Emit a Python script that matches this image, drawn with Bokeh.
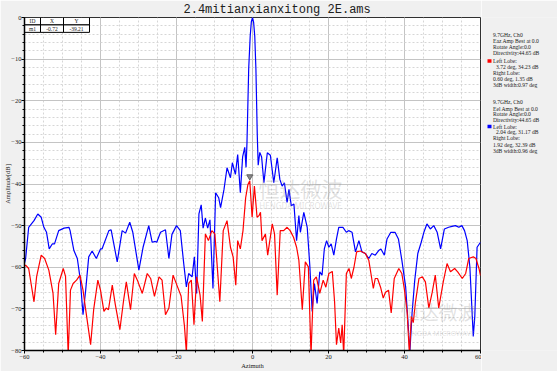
from bokeh.plotting import figure
from bokeh.layouts import row
from bokeh.models import Label, SingleIntervalTicker, Range1d, Title
from bokeh.core.properties import value
from bokeh.embed import file_html
from bokeh.resources import INLINE

# ---------------- data ----------------
title_text = "2.4mitianxianxitong 2E.ams"
x_label = "Azimuth"
y_label = "Amplitude[dB]"

az_blue = [-60.0, -59.7, -58.9, -57.5, -56.5, -55.6, -54.9, -54.2, -53.5, -52.7, -52.1, -51.0, -49.6, -48.3,
           -48.0, -47.0, -46.1, -45.3, -44.6, -43.9, -43.1, -42.2, -41.1, -40.0, -39.6, -37.8, -37.2, -35.6,
           -34.3, -33.4, -32.3, -31.5, -29.9, -28.8, -27.3, -26.4, -25.6, -25.2, -24.2, -22.9, -22.0, -21.2,
           -20.0, -19.0, -18.1, -17.4, -16.8, -15.9, -15.3, -14.7, -14.1, -13.5, -13.0, -12.4, -11.8, -11.2,
           -10.4, -9.7, -8.9, -8.4, -7.5, -6.7, -5.8, -5.3, -4.5, -3.9, -3.2, -2.6, -2.04, -1.7, -1.45, -1.0,
           -0.6, -0.3, 0.0, 0.3, 0.6, 0.9, 1.25, 1.5, 1.92, 2.4, 3.0, 3.9, 4.7, 5.6, 6.5, 7.2, 7.8, 8.4, 9.1,
           9.6, 10.2, 10.9, 11.6, 12.2, 12.6, 13.5, 14.4, 15.1, 15.7, 16.3, 17.0, 17.7, 18.3, 18.9, 19.5, 20.1,
           20.7, 21.4, 22.1, 22.7, 23.8, 24.7, 25.3, 26.2, 27.1, 28.0, 28.8, 29.7, 30.6, 31.4, 32.3, 33.2,
           33.8, 34.7, 35.4, 36.4, 37.5, 38.4, 39.3, 40.3, 40.9, 41.4, 42.0, 42.7, 43.5, 44.4, 45.1, 45.9,
           46.8, 47.7, 48.6, 49.5, 50.5, 51.6, 52.5, 53.4, 54.3, 55.1, 55.8, 56.5, 57.2, 58.1, 58.5, 59.1, 60.0]
amp_blue = [-59.0, -57.9, -50.4, -48.8, -47.2, -48.0, -50.4, -51.6, -55.6, -54.4, -54.4, -51.2, -50.6, -50.4,
            -51.2, -56.0, -57.9, -63.1, -71.4, -65.5, -57.5, -56.1, -57.9, -55.6, -55.6, -51.2, -51.0, -58.7,
            -51.2, -51.8, -49.2, -51.6, -60.7, -55.2, -50.0, -54.0, -53.8, -54.0, -51.6, -51.0, -57.9, -52.1,
            -50.0, -51.2, -59.1, -64.7, -61.5, -62.3, -57.5, -66.3, -47.2, -45.0, -50.6, -48.2, -50.6, -48.6,
            -65.1, -42.1, -43.3, -45.7, -41.3, -36.1, -38.5, -34.9, -37.7, -32.9, -42.1, -33.5, -31.2, -36.0,
            -30.0, -12.3, -4.4, -1.0, 0.0, -1.2, -4.6, -12.5, -28.0, -35.5, -32.4, -33.5, -39.7, -32.5, -33.1,
            -39.7, -33.7, -38.9, -40.5, -39.7, -44.4, -41.3, -45.2, -44.8, -53.6, -47.6, -51.6, -46.8, -50.4,
            -59.9, -70.6, -63.9, -68.7, -61.1, -61.9, -55.6, -53.6, -55.2, -54.4, -57.1, -53.2, -50.4, -50.4,
            -51.6, -51.2, -51.6, -56.3, -53.6, -56.3, -56.7, -57.9, -56.7, -57.1, -56.0, -55.6, -57.1, -53.2,
            -51.6, -51.6, -53.2, -58.3, -64.7, -72.9, -80.5, -70.9, -63.1, -56.7, -54.0, -51.6, -49.6, -50.8,
            -50.0, -51.6, -55.6, -50.8, -50.4, -50.2, -50.0, -50.4, -50.0, -51.2, -53.6, -59.9, -76.6, -71.8,
            -55.2, -54.0]

az_red = [-60.0, -59.7, -58.9, -57.5, -56.8, -55.6, -54.7, -53.6, -52.5, -51.8, -51.0, -49.8, -49.2, -48.5,
          -47.9, -47.2, -46.3, -45.4, -44.6, -43.9, -42.6, -41.8, -40.7, -40.0, -39.1, -38.5, -37.9, -36.9,
          -36.1, -34.9, -33.9, -33.2, -32.1, -31.1, -30.3, -29.0, -27.7, -26.8, -25.8, -24.6, -23.8, -22.9,
          -22.0, -20.9, -19.9, -18.8, -17.9, -17.4, -16.8, -16.1, -15.4, -14.7, -13.8, -13.2, -12.4, -11.6,
          -10.7, -9.9, -8.6, -7.7, -6.7, -5.8, -5.1, -4.4, -3.9, -3.2, -2.5, -1.8, -1.2, -0.72, -0.1, 0.5,
          1.2, 1.7, 2.1, 2.5, 3.4, 4.0, 5.2, 5.8, 6.5, 7.3, 8.2, 9.1, 9.9, 10.8, 11.6, 12.2, 13.1, 13.9, 14.7,
          15.4, 16.1, 16.8, 17.7, 18.6, 19.3, 20.1, 21.0, 21.6, 22.1, 22.7, 23.2, 23.6, 24.0, 24.7, 25.4,
          26.0, 26.7, 27.4, 28.4, 29.7, 30.6, 31.8, 32.3, 32.9, 33.7, 34.4, 35.0, 35.8, 36.5, 37.3, 38.5,
          39.3, 40.0, 40.7, 41.3, 41.8, 42.3, 42.9, 43.8, 44.7, 45.5, 46.4, 47.3, 48.1, 49.0, 50.2, 51.2,
          52.1, 53.2, 54.0, 55.2, 56.1, 56.9, 58.1, 58.8, 59.6, 60.0]
amp_red = [-59.8, -59.5, -60.3, -68.3, -62.2, -57.1, -57.9, -60.7, -66.2, -76.2, -63.9, -60.3, -62.2, -81.0,
           -65.5, -63.9, -63.1, -61.9, -65.5, -70.2, -78.6, -70.2, -63.1, -65.5, -70.6, -69.8, -70.2, -64.3,
           -69.0, -75.0, -67.8, -63.5, -70.2, -61.5, -63.1, -66.3, -61.5, -62.7, -67.0, -62.3, -63.1, -71.4,
           -69.8, -61.9, -64.3, -66.9, -74.2, -80.5, -63.9, -63.1, -73.8, -62.3, -66.7, -73.0, -52.0, -53.6,
           -51.2, -52.0, -68.3, -51.2, -48.8, -55.2, -57.5, -64.3, -53.6, -55.6, -51.2, -43.3, -40.1, -39.2,
           -48.0, -40.5, -48.0, -47.6, -46.8, -53.6, -52.0, -57.1, -49.6, -52.0, -66.7, -51.2, -51.2, -50.4,
           -51.2, -52.8, -55.2, -58.3, -70.2, -58.7, -59.9, -81.0, -63.1, -62.3, -66.3, -63.1, -64.8, -61.5,
           -61.0, -68.3, -78.6, -74.6, -78.2, -73.8, -81.0, -61.5, -60.3, -62.7, -60.0, -56.3, -56.1, -56.7,
           -58.3, -65.1, -62.7, -62.7, -64.8, -67.4, -66.0, -65.5, -71.0, -62.7, -60.3, -61.5, -65.5, -70.9,
           -81.0, -71.8, -73.3, -68.3, -62.7, -62.3, -63.5, -69.8, -66.0, -61.9, -69.8, -63.5, -59.1, -61.1,
           -60.3, -61.1, -62.7, -61.5, -57.9, -57.5, -57.9, -60.3, -62.0]

marker_id = ["m1"]
marker_x = [-0.72]
marker_y = [-39.21]

info_red = ["9.7GHz, Ch0", "Eaz Amp Best at 0.0", "Rotate Angle:0.0", "Directivity:44.65 dB",
            "Left Lobe:", "3.72 deg,  34.23 dB", "Right Lobe:", "0.60 deg,  1.35 dB", "3dB width:0.97 deg"]
info_blue = ["9.7GHz, Ch0", "Eel Amp Best at 0.0", "Rotate Angle:0.0", "Directivity:44.65 dB",
             "Left Lobe:", "2.04 deg,  31.17 dB", "Right Lobe:", "1.92 deg,  32.39 dB", "3dB width:0.96 deg"]

# ---------------- layout helpers (reference pixels) ----------------
TOTAL_W, H = 557, 371
FL, FR, FT, FB = 24, 480, 15, 351   # plot frame in reference pixels
PW = FR + 1                          # width of the chart figure
SW = TOTAL_W - PW                    # width of the side panel


def rx(px):  # reference pixel x -> data x
    return -60 + (px - FL) / (FR - FL) * 120.0


def ry(py):  # reference pixel y -> data y
    return -(py - FT) / (FB - FT) * 80.0


FONT = "Liberation Serif"
BG = "#f0f0f0"

p = figure(width=PW, height=H, output_backend="svg", toolbar_location=None, title=None,
           x_range=Range1d(-60, 60), y_range=Range1d(-80, 0),
           min_border_left=FL, min_border_right=PW - FR, min_border_top=FT, min_border_bottom=H - FB)
p.background_fill_color = "white"
p.border_fill_color = BG
p.outline_line_color = "#303030"
p.outline_line_width = 1

p.add_layout(Title(text=title_text, align="left", offset=183 - FL, standoff=1,
                   text_font="Liberation Mono", text_font_size="12px", text_font_style="normal",
                   text_color="#202020"), "above")

xt = SingleIntervalTicker(interval=20, num_minor_ticks=4)
yt = SingleIntervalTicker(interval=10, num_minor_ticks=5)
p.xaxis.ticker = xt
p.yaxis.ticker = yt
p.xgrid.ticker = xt
p.ygrid.ticker = yt
for g in (p.xgrid, p.ygrid):
    g.grid_line_color = "#c4c4c4"
    g.grid_line_width = 1
    g.minor_grid_line_color = "#d6d6d6"
    g.minor_grid_line_dash = "2 2"
    g.minor_grid_line_width = 1

for ax in (p.xaxis, p.yaxis):
    ax.axis_line_color = "black"
    ax.axis_line_width = 1.5
    ax.major_tick_line_color = "black"
    ax.minor_tick_line_color = "black"
    ax.major_tick_out = 3
    ax.major_tick_in = 0
    ax.minor_tick_out = 2
    ax.minor_tick_in = 0
    ax.major_label_text_font = FONT
    ax.major_label_text_font_size = "6.5px"
    ax.major_label_text_color = "#202020"
    ax.major_label_standoff = 1
    ax.axis_label_text_font = FONT
    ax.axis_label_text_font_size = "6.5px"
    ax.axis_label_text_font_style = "normal"
    ax.axis_label_text_color = "#202020"
    ax.axis_label_standoff = 0
p.yaxis.major_label_standoff = 0
p.yaxis.axis_label_standoff = -3
p.xaxis.axis_label = x_label
p.yaxis.axis_label = y_label

# ---------------- curves ----------------
p.line(az_blue, amp_blue, line_color="#0000ff", line_width=1.2)
p.line(az_red, amp_red, line_color="#ff0000", line_width=1.2)
p.scatter(marker_x, [v + 1.0 for v in marker_y], marker="inverted_triangle", size=6,
          fill_color="#8a8a8a", line_color="#606060")

# ---------------- marker table ----------------
col_edges = [24, 40, 63, 89]
row_edges = [15, 22.5, 30]
table = [["ID", "X", "Y"], [marker_id[0], f"{marker_x[0]:.2f}", f"{marker_y[0]:.2f}"]]
left, right, top, bottom, tx, ty, tt = [], [], [], [], [], [], []
for r in range(2):
    for c in range(3):
        left.append(rx(col_edges[c]))
        right.append(rx(col_edges[c + 1]))
        top.append(ry(row_edges[r]))
        bottom.append(ry(row_edges[r + 1]))
        tx.append(rx((col_edges[c] + col_edges[c + 1]) / 2))
        ty.append(ry((row_edges[r] + row_edges[r + 1]) / 2))
        tt.append(table[r][c])
p.quad(left=left, right=right, top=top, bottom=bottom, fill_color="white", line_color="black", line_width=1)
p.text(tx, ty, text=tt, text_font=value(FONT), text_font_size="5.5px", text_align="center",
       text_baseline="middle", text_color="#202020")

# ---------------- side panel (coordinates are reference pixels) ----------------
s = figure(width=SW, height=H, output_backend="svg", toolbar_location=None, title=None,
           x_range=Range1d(PW, TOTAL_W), y_range=Range1d(H, 0),
           x_axis_location=None, y_axis_location=None,
           min_border_left=0, min_border_right=0, min_border_top=0, min_border_bottom=0)
s.background_fill_color = BG
s.border_fill_color = BG
s.outline_line_color = None
s.grid.visible = False

red_y = [19.3, 26.7, 33.3, 40.0, 48.5, 55.0, 61.5, 68.0, 75.0]
blue_y = [94.3, 101.5, 107.8, 114.5, 121.5, 128.0, 134.5, 141.5, 149.0]
ix, iy, it = [], [], []
for lines, ys in ((info_red, red_y), (info_blue, blue_y)):
    for i, (txt, yy) in enumerate(zip(lines, ys)):
        ix.append(495.5 if i == 5 else 492.5)
        iy.append(yy)
        it.append(txt)
s.text(ix, iy, text=it, text_font=value(FONT), text_font_size="5.6px", text_baseline="middle",
       text_align="left", text_color="#202020")
s.rect([489, 489], [red_y[4], blue_y[4]], width=4, height=4, fill_color=["#ff0000", "#0000ff"],
       line_color=None)

# ---------------- watermarks ----------------
wm = [(300, 187, 205, "21px", "8px"), (438, 312, 334, "19px", "7px")]
for (cx, cy, cy2, fs, fs2) in wm:
    p.add_layout(Label(x=rx(cx), y=ry(cy), text="恒达微波", text_font="Noto Sans CJK SC", text_font_size=fs,
                       text_align="center", text_baseline="middle", text_color="#9a9a9a", text_alpha=0.3))
    p.add_layout(Label(x=rx(cx), y=ry(cy2), text="HENGDA MICROWAVE", text_font="Noto Sans",
                       text_font_size=fs2, text_align="center", text_baseline="middle",
                       text_color="#9a9a9a", text_alpha=0.3))

layout = row(p, s, spacing=0)
open("out.html", "w").write(file_html(layout, INLINE))
